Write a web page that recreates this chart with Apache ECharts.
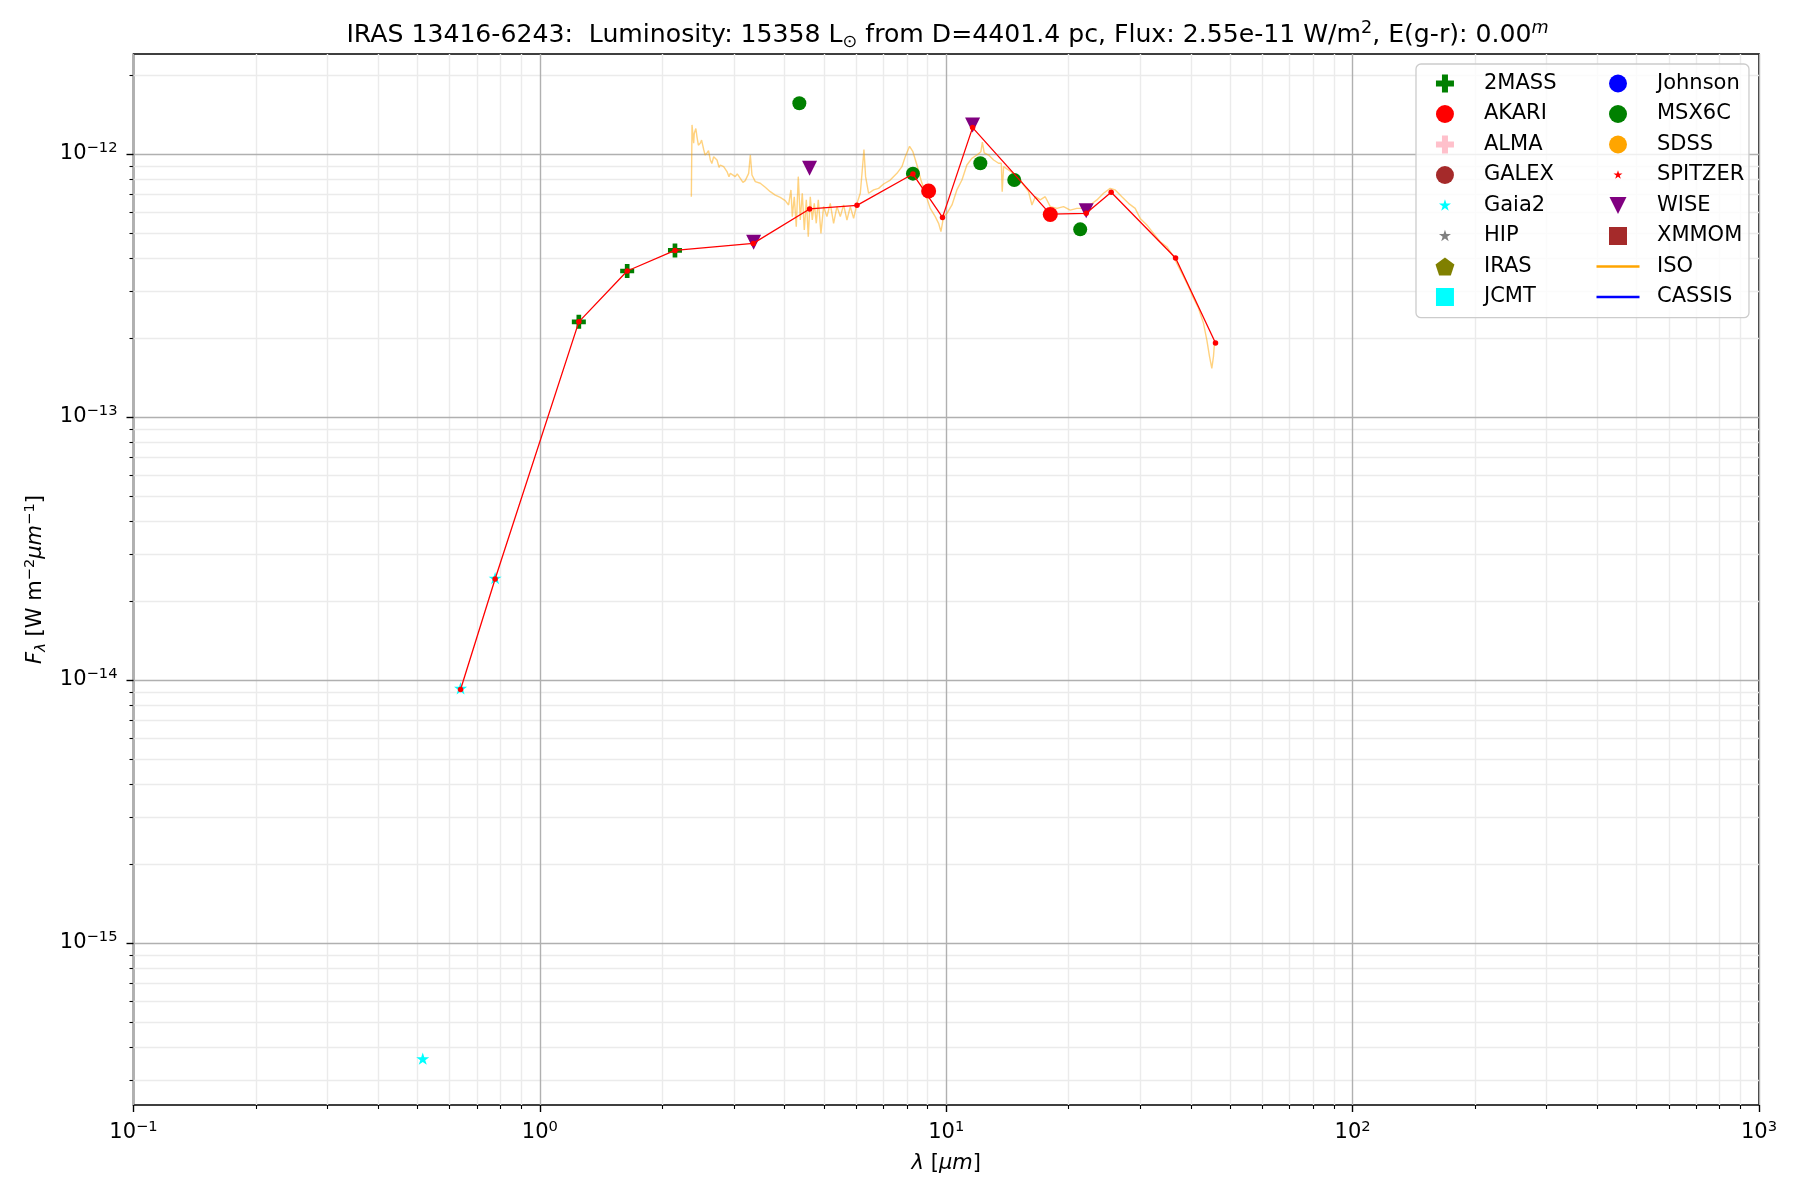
<!DOCTYPE html>
<html><head><meta charset="utf-8">
<script src="https://cdn.jsdelivr.net/npm/echarts@6/dist/echarts.min.js"></script>
<style>html,body{margin:0;padding:0;background:#fff}#c{width:1800px;height:1200px}</style>
</head><body><div id="c"></div>
<script>
// ---------------- data ----------------
// ISO spectrum: [wavelength (um), F_lambda (W m^-2 um^-1)]
const isoSpectrum = [
 [2.359,6.88e-13],[2.368,1.29e-12],[2.390,1.10e-12],[2.399,1.20e-12],[2.420,1.25e-12],[2.436,1.16e-12],
 [2.455,1.08e-12],[2.483,1.10e-12],[2.500,1.13e-12],[2.530,1.04e-12],[2.550,9.9e-13],[2.578,1.01e-12],
 [2.600,1.03e-12],[2.627,9.49e-13],[2.650,9.2e-13],[2.677,9.77e-13],[2.700,9.9e-13],[2.728,9.49e-13],
 [2.760,8.9e-13],[2.780,9.08e-13],[2.833,8.95e-13],[2.860,9.1e-13],[2.887,8.57e-13],[2.920,8.2e-13],
 [2.942,8.44e-13],[3.026,8.20e-13],[3.060,8.4e-13],[3.113,8.08e-13],[3.160,7.8e-13],[3.202,7.92e-13],
 [3.264,8.44e-13],[3.295,9.91e-13],[3.326,8.32e-13],[3.389,7.85e-13],[3.486,7.74e-13],[3.586,7.47e-13],
 [3.689,7.19e-13],[3.795,6.98e-13],[3.904,6.84e-13],[4.016,6.65e-13],[4.093,6.40e-13],[4.148,7.30e-13],
 [4.180,5.78e-13],[4.227,6.88e-13],[4.275,5.29e-13],[4.324,8.20e-13],[4.373,5.61e-13],[4.423,7.09e-13],
 [4.474,5.14e-13],[4.525,6.69e-13],[4.576,4.85e-13],[4.628,6.88e-13],[4.681,5.61e-13],[4.734,6.49e-13],
 [4.788,5.45e-13],[4.843,6.69e-13],[4.916,4.99e-13],[4.991,6.31e-13],[5.086,5.78e-13],[5.183,6.49e-13],
 [5.282,5.45e-13],[5.383,6.31e-13],[5.486,5.78e-13],[5.590,6.40e-13],[5.697,5.61e-13],[5.806,6.31e-13],
 [5.917,5.69e-13],[6.030,6.49e-13],[6.144,7.09e-13],[6.214,8.69e-13],[6.273,1.04e-12],[6.332,8.20e-13],
 [6.441,7.09e-13],[6.626,7.30e-13],[6.816,7.40e-13],[7.012,7.69e-13],[7.282,7.96e-13],[7.562,8.44e-13],
 [7.779,8.95e-13],[7.927,9.77e-13],[8.124,1.07e-12],[8.279,1.02e-12],[8.469,9.08e-13],[8.663,7.96e-13],
 [8.878,7.09e-13],[9.133,6.21e-13],[9.396,5.78e-13],[9.575,5.45e-13],[9.703,5.07e-13],[9.850,5.78e-13],
 [10.04,5.95e-13],[10.33,6.40e-13],[10.62,7.30e-13],[10.93,7.96e-13],[11.24,9.08e-13],[11.56,9.63e-13],
 [11.90,9.91e-13],[12.17,1.02e-12],[12.27,1.11e-12],[12.40,1.01e-12],[12.71,9.91e-13],[13.08,9.49e-13],
 [13.45,9.22e-13],[13.66,9.22e-13],[13.73,7.19e-13],[13.84,8.95e-13],[14.23,8.69e-13],[14.64,8.44e-13],
 [15.07,8.20e-13],[15.50,7.62e-13],[15.94,7.19e-13],[16.25,6.40e-13],[16.56,6.88e-13],[17.03,6.69e-13],
 [17.52,6.88e-13],[18.03,6.31e-13],[18.72,6.21e-13],[19.44,6.31e-13],[20.19,6.12e-13],[20.96,6.21e-13],
 [21.77,6.21e-13],[22.61,6.40e-13],[23.48,6.69e-13],[24.38,7.09e-13],[25.32,7.40e-13],[26.05,7.30e-13],
 [27.05,6.88e-13],[28.09,6.49e-13],[29.17,6.21e-13],[30.01,5.69e-13],[31.16,5.37e-13],[32.36,4.99e-13],
 [33.61,4.64e-13],[34.90,4.44e-13],[36.25,4.07e-13],[37.28,3.73e-13],[38.35,3.42e-13],[39.46,3.13e-13],
 [40.59,2.83e-13],[41.76,2.59e-13],[42.96,2.27e-13],[43.78,1.96e-13],[44.44,1.70e-13],[45.03,1.53e-13],
 [45.46,1.70e-13],[45.72,1.91e-13]
];

const sedWave = [0.638,0.776,1.247,1.64,2.15,3.35,4.61,6.03,8.28,9.79,11.61,18.03,22.10,25.46,36.67,45.98];
const sedFlux = [9.2e-15,2.42e-14,2.30e-13,3.59e-13,4.30e-13,4.57e-13,6.18e-13,6.38e-13,8.39e-13,5.74e-13,1.26e-12,5.91e-13,5.95e-13,7.15e-13,4.02e-13,1.91e-13];

const twomassWave = [1.247,1.64,2.15];
const twomassFlux = [2.30e-13,3.59e-13,4.30e-13];
const akariWave = [9.05,18.03];
const akariFlux = [7.23e-13,5.89e-13];
const gaiaWave = [0.515,0.638,0.776];
const gaiaFlux = [3.63e-16,9.3e-15,2.44e-14];
const msxWave = [4.35,8.28,12.13,14.70,21.36];
const msxFlux = [1.56e-12,8.42e-13,9.22e-13,7.96e-13,5.17e-13];
const wiseWave = [3.357,4.61,11.61,22.10];
const wiseFlux = [4.62e-13,8.82e-13,1.29e-12,6.09e-13];

const xMin = 0.1, xMax = 1000, yMin = 2.42e-16, yMax = 2.40e-12;
const xMajorTicks = [0.1,1,10,100,1000];
const yMajorTicks = [1e-15,1e-14,1e-13,1e-12];
const minorDigits = [2,3,4,5,6,7,8,9];
const xMinorTicks = [], yMinorTicks = [];
[-1,0,1,2].forEach(e => minorDigits.forEach(d => xMinorTicks.push(+(d*Math.pow(10,e)).toPrecision(3))));
[-16,-15,-14,-13,-12].forEach(e => minorDigits.forEach(d => { const v = +(d*Math.pow(10,e)).toPrecision(3); if (v > yMin && v < yMax) yMinorTicks.push(v); }));

const titleText = 'IRAS 13416-6243:  Luminosity: 15358 L{sub|\u2299} from D=4401.4 pc, Flux: 2.55e-11 W/m{sup|2}, E(g-r): 0.00{supi|m}';

// ---------------- styling ----------------
const FONT = 'DejaVu Sans';
const zip = (a, b) => a.map((v, i) => [v, b[i]]);
const PLUS = 'path://M-1,-3H1V-1H3V1H1V3H-1V1H-3V-1H-1Z';
const STARP = 'M0,-10L2.245,-3.09L9.511,-3.09L3.633,1.18L5.878,8.09L0,3.82L-5.878,8.09L-3.633,1.18L-9.511,-3.09L-2.245,-3.09Z';
const STAR = 'path://' + STARP;
const STAR_L12 = 'path://M-14.2,-14.2M14.2,14.2M' + STARP.slice(1);
const STAR_L9 = 'path://M-19,-19M19,19M' + STARP.slice(1);
const PENT = 'path://M0,-10L9.511,-3.09L5.878,8.09L-5.878,8.09L-9.511,-3.09Z';
const SQUARE = 'path://M-10,-10H10V10H-10Z';
const TRI = 'path://M-10,-10L10,-10L0,10Z';
const TRI_L = 'path://M-10.6,-10.6M10.6,10.6M-10,-10L10,-10L0,10Z';
const LINEICON = 'path://M0,0H40V2.2H0Z';

function powLabel(v) {
  const e = Math.round(Math.log10(v));
  return '{b|10}{e|' + (e < 0 ? '\u2212' + (-e) : String(e)) + '}';
}
const tickRich = {
  b: {fontSize: 21, lineHeight: 26, fontFamily: FONT, color: '#000'},
  e: {fontSize: 14.7, lineHeight: 14, verticalAlign: 'top', fontFamily: FONT, color: '#000'}
};

function scatter(name, data, symbol, size, color) {
  return {type: 'scatter', name, data, symbol, symbolSize: size, symbolKeepAspect: true,
    itemStyle: {color, opacity: 1}, z: 3, xAxisIndex: 0, yAxisIndex: 0, silent: true};
}

const chart = echarts.init(document.getElementById('c'));
const legendCommon = {
  orient: 'vertical', itemWidth: 43, itemHeight: 18, itemGap: 9.5, selectedMode: false,
  symbolKeepAspect: true, itemStyle: {borderWidth: 0},
  textStyle: {fontSize: 21, lineHeight: 18, fontFamily: FONT, color: '#000', padding: [0, 0, 0, 12.5]}
};
chart.setOption({
  animation: false,
  backgroundColor: '#fff',
  textStyle: {fontFamily: FONT},
  title: {
    text: titleText, left: 942.5, top: 14, textAlign: 'center',
    textStyle: {fontSize: 25.15, lineHeight: 32, fontWeight: 'normal', fontFamily: FONT, color: '#000',
      rich: {
        sub: {fontSize: 17.6, lineHeight: 22, verticalAlign: 'bottom', fontFamily: FONT, color: '#000'},
        sup: {fontSize: 17.6, lineHeight: 18, verticalAlign: 'top', fontFamily: FONT, color: '#000'},
        supi: {fontSize: 17.6, lineHeight: 18, verticalAlign: 'top', fontStyle: 'italic', fontFamily: FONT, color: '#000'}
      }}
  },
  grid: {left: 133.5, right: 41, top: 54, bottom: 95, show: true, borderColor: '#000', borderWidth: 1.6,
    backgroundColor: '#fff', containLabel: false, outerBoundsMode: 'none'},
  legend: [
    Object.assign({}, legendCommon, {
      left: 1416, top: 64, padding: [9, 8, 10.2, 19.5], z: 4,
      backgroundColor: 'rgba(255,255,255,0.8)', borderColor: '#cccccc', borderWidth: 1.3, borderRadius: 5,
      textStyle: Object.assign({}, legendCommon.textStyle, {width: 257}),
      data: [
        {name: '2MASS', icon: PLUS}, {name: 'AKARI', icon: 'circle'}, {name: 'ALMA', icon: PLUS},
        {name: 'GALEX', icon: 'circle'}, {name: 'Gaia2', icon: STAR_L12}, {name: 'HIP', icon: STAR_L12},
        {name: 'IRAS', icon: PENT}, {name: 'JCMT', icon: SQUARE}
      ]
    }),
    Object.assign({}, legendCommon, {
      left: 1596.5, top: 73, padding: 0, z: 5,
      data: [
        {name: 'Johnson', icon: 'circle'}, {name: 'MSX6C', icon: 'circle'}, {name: 'SDSS', icon: 'circle'},
        {name: 'SPITZER', icon: STAR_L9}, {name: 'WISE', icon: TRI_L}, {name: 'XMMOM', icon: SQUARE},
        {name: 'ISO', icon: LINEICON, itemStyle: {color: '#ffa500', opacity: 1}},
        {name: 'CASSIS', icon: LINEICON, itemStyle: {color: '#0000ff', opacity: 1}}
      ]
    })
  ],
  xAxis: [
    {type: 'log', logBase: 10, min: xMin, max: xMax, gridIndex: 0, z: 1, position: 'bottom',
      name: '{i|\u03bb} [{i|\u03bcm}]', nameLocation: 'middle', nameGap: 46,
      nameTextStyle: {fontSize: 21, lineHeight: 26, color: '#000', fontFamily: FONT,
        rich: {i: {fontSize: 21, lineHeight: 26, fontStyle: 'italic', fontFamily: FONT, color: '#000'}}},
      axisLine: {show: false},
      axisTick: {show: true, inside: false, length: 7, customValues: xMajorTicks, lineStyle: {color: '#000', width: 1.4}},
      axisLabel: {show: true, customValues: xMajorTicks, margin: 15, formatter: powLabel, rich: tickRich},
      splitLine: {show: true, lineStyle: {color: '#b0b0b0', width: 1.4}}
    },
    {type: 'log', logBase: 10, min: xMin, max: xMax, gridIndex: 0, z: 0, position: 'bottom', offset: 0,
      axisLine: {show: false},
      axisTick: {show: true, inside: false, length: 4, customValues: xMinorTicks, lineStyle: {color: '#000', width: 1.1}},
      axisLabel: {show: false},
      splitLine: {show: true, lineStyle: {color: '#ebebeb', width: 1.4}}
    }
  ],
  yAxis: [
    {type: 'log', logBase: 10, min: yMin, max: yMax, gridIndex: 0, z: 1, position: 'left',
      name: '{i|F}{s|\u03bb} [W m{p|\u22122}{i|\u03bcm}{p|\u22121}]', nameLocation: 'middle', nameGap: 82, nameRotate: 90,
      nameTextStyle: {fontSize: 21, lineHeight: 26, color: '#000', fontFamily: FONT,
        rich: {
          i: {fontSize: 21, lineHeight: 26, fontStyle: 'italic', fontFamily: FONT, color: '#000'},
          s: {fontSize: 14.7, lineHeight: 17, verticalAlign: 'bottom', fontStyle: 'italic', fontFamily: FONT, color: '#000'},
          p: {fontSize: 14.7, lineHeight: 14, verticalAlign: 'top', fontFamily: FONT, color: '#000'}
        }},
      axisLine: {show: false},
      axisTick: {show: true, inside: false, length: 7, customValues: yMajorTicks, lineStyle: {color: '#000', width: 1.4}},
      axisLabel: {show: true, customValues: yMajorTicks, margin: 16, formatter: powLabel, rich: tickRich},
      splitLine: {show: true, lineStyle: {color: '#b0b0b0', width: 1.4}}
    },
    {type: 'log', logBase: 10, min: yMin, max: yMax, gridIndex: 0, z: 0, position: 'left', offset: 0,
      axisLine: {show: false},
      axisTick: {show: true, inside: false, length: 4, customValues: yMinorTicks, lineStyle: {color: '#000', width: 1.1}},
      axisLabel: {show: false},
      splitLine: {show: true, lineStyle: {color: '#ebebeb', width: 1.4}}
    }
  ],
  series: [
    {type: 'line', name: 'ISO', data: isoSpectrum, showSymbol: false, symbol: 'none', z: 2,
      xAxisIndex: 0, yAxisIndex: 0, silent: true,
      itemStyle: {color: '#ffa500'}, lineStyle: {color: 'rgba(255,165,0,0.5)', width: 1.4}},
    {type: 'line', name: 'CASSIS', data: [], showSymbol: false, symbol: 'none', z: 2,
      itemStyle: {color: '#0000ff'}, lineStyle: {color: '#0000ff', width: 1.3}},
    scatter('2MASS', zip(twomassWave, twomassFlux), PLUS, 14, '#008000'),
    scatter('AKARI', zip(akariWave, akariFlux), 'circle', 15, '#ff0000'),
    scatter('ALMA', [], PLUS, 14, '#ffc0cb'),
    scatter('GALEX', [], 'circle', 15, '#a52a2a'),
    scatter('Gaia2', zip(gaiaWave, gaiaFlux), STAR, 13, '#00ffff'),
    scatter('HIP', [], STAR, 13, '#808080'),
    scatter('IRAS', [], PENT, 15, '#808000'),
    scatter('JCMT', [], SQUARE, 15, '#00ffff'),
    scatter('Johnson', [], 'circle', 15, '#0000ff'),
    scatter('MSX6C', zip(msxWave, msxFlux), 'circle', 14, '#008000'),
    scatter('SDSS', [], 'circle', 15, '#ffa500'),
    scatter('SPITZER', [], STAR, 9, '#ff0000'),
    scatter('WISE', zip(wiseWave, wiseFlux), TRI, 15, '#800080'),
    scatter('XMMOM', [], SQUARE, 15, '#a52a2a'),
    {type: 'line', name: 'SED', data: zip(sedWave, sedFlux), symbol: 'circle', symbolSize: 5.5, showSymbol: true,
      showAllSymbol: true, z: 5, xAxisIndex: 0, yAxisIndex: 0, silent: true,
      itemStyle: {color: '#ff0000'}, lineStyle: {color: '#ff0000', width: 1.3}}
  ]
});
</script>
</body></html>
